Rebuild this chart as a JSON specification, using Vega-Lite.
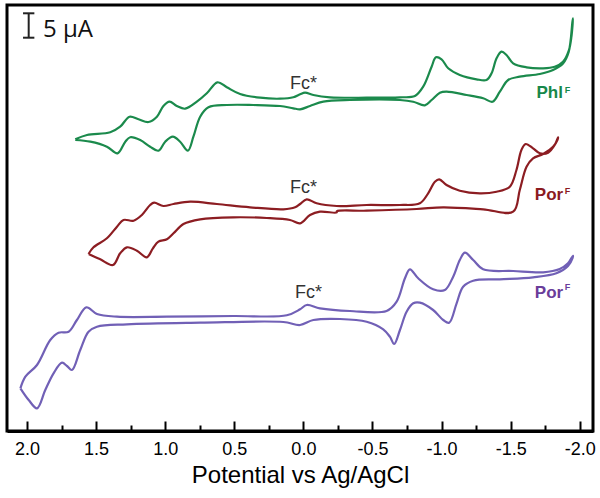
{
  "$schema": "https://vega.github.io/schema/vega-lite/v6.json",
  "width": 586,
  "height": 426,
  "autosize": {"type": "none"},
  "padding": {"left": 7, "top": 5, "right": 7, "bottom": 67},
  "background": "white",
  "config": {"view": {"stroke": "black", "strokeWidth": 3}, "font": "Liberation Sans"},
  "datasets": {
    "cv": [
      {"s": "green", "o": 0, "v": 1.651, "i": 58.34},
      {"s": "green", "o": 1, "v": 1.566, "i": 59.2},
      {"s": "green", "o": 2, "v": 1.398, "i": 59.74},
      {"s": "green", "o": 3, "v": 1.326, "i": 60.86},
      {"s": "green", "o": 4, "v": 1.258, "i": 62.86},
      {"s": "green", "o": 5, "v": 1.193, "i": 62.34},
      {"s": "green", "o": 6, "v": 1.121, "i": 61.8},
      {"s": "green", "o": 7, "v": 1.06, "i": 62.86},
      {"s": "green", "o": 8, "v": 1.013, "i": 65.0},
      {"s": "green", "o": 9, "v": 0.969, "i": 65.86},
      {"s": "green", "o": 10, "v": 0.916, "i": 65.0},
      {"s": "green", "o": 11, "v": 0.856, "i": 64.46},
      {"s": "green", "o": 12, "v": 0.771, "i": 65.86},
      {"s": "green", "o": 13, "v": 0.699, "i": 67.54},
      {"s": "green", "o": 14, "v": 0.622, "i": 69.74},
      {"s": "green", "o": 15, "v": 0.554, "i": 68.74},
      {"s": "green", "o": 16, "v": 0.458, "i": 67.4},
      {"s": "green", "o": 17, "v": 0.313, "i": 66.66},
      {"s": "green", "o": 18, "v": 0.169, "i": 66.46},
      {"s": "green", "o": 19, "v": 0.073, "i": 66.74},
      {"s": "green", "o": 20, "v": 0.024, "i": 67.34},
      {"s": "green", "o": 21, "v": -0.012, "i": 67.66},
      {"s": "green", "o": 22, "v": -0.072, "i": 67.2},
      {"s": "green", "o": 23, "v": -0.193, "i": 66.74},
      {"s": "green", "o": 24, "v": -0.458, "i": 66.66},
      {"s": "green", "o": 25, "v": -0.699, "i": 66.74},
      {"s": "green", "o": 26, "v": -0.807, "i": 67.0},
      {"s": "green", "o": 27, "v": -0.867, "i": 68.86},
      {"s": "green", "o": 28, "v": -0.928, "i": 72.86},
      {"s": "green", "o": 29, "v": -0.959, "i": 74.74},
      {"s": "green", "o": 30, "v": -1.0, "i": 74.34},
      {"s": "green", "o": 31, "v": -1.048, "i": 72.54},
      {"s": "green", "o": 32, "v": -1.132, "i": 71.2},
      {"s": "green", "o": 33, "v": -1.253, "i": 70.34},
      {"s": "green", "o": 34, "v": -1.325, "i": 70.2},
      {"s": "green", "o": 35, "v": -1.362, "i": 71.54},
      {"s": "green", "o": 36, "v": -1.398, "i": 74.54},
      {"s": "green", "o": 37, "v": -1.434, "i": 75.86},
      {"s": "green", "o": 38, "v": -1.47, "i": 75.2},
      {"s": "green", "o": 39, "v": -1.518, "i": 73.54},
      {"s": "green", "o": 40, "v": -1.615, "i": 72.74},
      {"s": "green", "o": 41, "v": -1.735, "i": 72.54},
      {"s": "green", "o": 42, "v": -1.819, "i": 72.86},
      {"s": "green", "o": 43, "v": -1.879, "i": 73.86},
      {"s": "green", "o": 44, "v": -1.922, "i": 76.2},
      {"s": "green", "o": 45, "v": -1.94, "i": 78.86},
      {"s": "green", "o": 46, "v": -1.951, "i": 82.54},
      {"s": "green", "o": 47, "v": -1.947, "i": 81.8},
      {"s": "green", "o": 48, "v": -1.92, "i": 75.8},
      {"s": "green", "o": 49, "v": -1.879, "i": 73.5},
      {"s": "green", "o": 50, "v": -1.807, "i": 72.2},
      {"s": "green", "o": 51, "v": -1.711, "i": 71.4},
      {"s": "green", "o": 52, "v": -1.566, "i": 70.86},
      {"s": "green", "o": 53, "v": -1.482, "i": 70.2},
      {"s": "green", "o": 54, "v": -1.422, "i": 67.86},
      {"s": "green", "o": 55, "v": -1.369, "i": 65.86},
      {"s": "green", "o": 56, "v": -1.301, "i": 66.54},
      {"s": "green", "o": 57, "v": -1.181, "i": 67.2},
      {"s": "green", "o": 58, "v": -1.036, "i": 67.86},
      {"s": "green", "o": 59, "v": -0.988, "i": 67.66},
      {"s": "green", "o": 60, "v": -0.928, "i": 66.2},
      {"s": "green", "o": 61, "v": -0.879, "i": 65.14},
      {"s": "green", "o": 62, "v": -0.795, "i": 65.86},
      {"s": "green", "o": 63, "v": -0.699, "i": 66.2},
      {"s": "green", "o": 64, "v": -0.337, "i": 66.2},
      {"s": "green", "o": 65, "v": -0.144, "i": 65.86},
      {"s": "green", "o": 66, "v": -0.048, "i": 65.0},
      {"s": "green", "o": 67, "v": 0.024, "i": 64.34},
      {"s": "green", "o": 68, "v": 0.073, "i": 64.54},
      {"s": "green", "o": 69, "v": 0.169, "i": 65.0},
      {"s": "green", "o": 70, "v": 0.362, "i": 65.2},
      {"s": "green", "o": 71, "v": 0.554, "i": 65.2},
      {"s": "green", "o": 72, "v": 0.687, "i": 64.74},
      {"s": "green", "o": 73, "v": 0.747, "i": 62.86},
      {"s": "green", "o": 74, "v": 0.796, "i": 58.86},
      {"s": "green", "o": 75, "v": 0.836, "i": 56.06},
      {"s": "green", "o": 76, "v": 0.892, "i": 57.86},
      {"s": "green", "o": 77, "v": 0.945, "i": 58.86},
      {"s": "green", "o": 78, "v": 1.0, "i": 57.86},
      {"s": "green", "o": 79, "v": 1.049, "i": 56.06},
      {"s": "green", "o": 80, "v": 1.109, "i": 56.86},
      {"s": "green", "o": 81, "v": 1.181, "i": 58.2},
      {"s": "green", "o": 82, "v": 1.253, "i": 58.74},
      {"s": "green", "o": 83, "v": 1.289, "i": 57.86},
      {"s": "green", "o": 84, "v": 1.345, "i": 55.54},
      {"s": "green", "o": 85, "v": 1.422, "i": 56.86},
      {"s": "green", "o": 86, "v": 1.542, "i": 57.86},
      {"s": "green", "o": 87, "v": 1.651, "i": 58.2},

      {"s": "red", "o": 0, "v": 1.555, "i": 35.4},
      {"s": "red", "o": 1, "v": 1.519, "i": 36.74},
      {"s": "red", "o": 2, "v": 1.422, "i": 38.54},
      {"s": "red", "o": 3, "v": 1.349, "i": 40.86},
      {"s": "red", "o": 4, "v": 1.302, "i": 42.2},
      {"s": "red", "o": 5, "v": 1.229, "i": 42.06},
      {"s": "red", "o": 6, "v": 1.169, "i": 43.2},
      {"s": "red", "o": 7, "v": 1.109, "i": 45.2},
      {"s": "red", "o": 8, "v": 1.08, "i": 45.66},
      {"s": "red", "o": 9, "v": 1.013, "i": 45.0},
      {"s": "red", "o": 10, "v": 0.94, "i": 45.4},
      {"s": "red", "o": 11, "v": 0.819, "i": 45.86},
      {"s": "red", "o": 12, "v": 0.626, "i": 45.4},
      {"s": "red", "o": 13, "v": 0.386, "i": 44.74},
      {"s": "red", "o": 14, "v": 0.145, "i": 44.34},
      {"s": "red", "o": 15, "v": 0.06, "i": 44.74},
      {"s": "red", "o": 16, "v": 0.024, "i": 45.4},
      {"s": "red", "o": 17, "v": -0.024, "i": 46.34},
      {"s": "red", "o": 18, "v": -0.096, "i": 45.54},
      {"s": "red", "o": 19, "v": -0.241, "i": 45.0},
      {"s": "red", "o": 20, "v": -0.458, "i": 45.2},
      {"s": "red", "o": 21, "v": -0.699, "i": 45.2},
      {"s": "red", "o": 22, "v": -0.843, "i": 45.54},
      {"s": "red", "o": 23, "v": -0.903, "i": 47.54},
      {"s": "red", "o": 24, "v": -0.952, "i": 49.86},
      {"s": "red", "o": 25, "v": -0.983, "i": 50.34},
      {"s": "red", "o": 26, "v": -1.036, "i": 49.2},
      {"s": "red", "o": 27, "v": -1.132, "i": 48.06},
      {"s": "red", "o": 28, "v": -1.277, "i": 47.54},
      {"s": "red", "o": 29, "v": -1.398, "i": 47.86},
      {"s": "red", "o": 30, "v": -1.494, "i": 48.86},
      {"s": "red", "o": 31, "v": -1.542, "i": 52.2},
      {"s": "red", "o": 32, "v": -1.578, "i": 56.2},
      {"s": "red", "o": 33, "v": -1.609, "i": 57.4},
      {"s": "red", "o": 34, "v": -1.662, "i": 56.54},
      {"s": "red", "o": 35, "v": -1.711, "i": 55.54},
      {"s": "red", "o": 36, "v": -1.771, "i": 55.66},
      {"s": "red", "o": 37, "v": -1.819, "i": 57.2},
      {"s": "red", "o": 38, "v": -1.843, "i": 58.74},
      {"s": "red", "o": 39, "v": -1.84, "i": 58.3},
      {"s": "red", "o": 40, "v": -1.807, "i": 56.86},
      {"s": "red", "o": 41, "v": -1.735, "i": 55.4},
      {"s": "red", "o": 42, "v": -1.662, "i": 54.54},
      {"s": "red", "o": 43, "v": -1.615, "i": 52.86},
      {"s": "red", "o": 44, "v": -1.566, "i": 48.2},
      {"s": "red", "o": 45, "v": -1.518, "i": 43.86},
      {"s": "red", "o": 46, "v": -1.301, "i": 44.34},
      {"s": "red", "o": 47, "v": -1.012, "i": 44.74},
      {"s": "red", "o": 48, "v": -0.819, "i": 44.4},
      {"s": "red", "o": 49, "v": -0.458, "i": 44.06},
      {"s": "red", "o": 50, "v": -0.242, "i": 43.95},
      {"s": "red", "o": 51, "v": -0.241, "i": 43.7},
      {"s": "red", "o": 52, "v": -0.12, "i": 43.86},
      {"s": "red", "o": 53, "v": -0.048, "i": 43.2},
      {"s": "red", "o": 54, "v": 0.024, "i": 41.54},
      {"s": "red", "o": 55, "v": 0.097, "i": 42.2},
      {"s": "red", "o": 56, "v": 0.265, "i": 42.6},
      {"s": "red", "o": 57, "v": 0.506, "i": 42.74},
      {"s": "red", "o": 58, "v": 0.747, "i": 42.34},
      {"s": "red", "o": 59, "v": 0.868, "i": 41.4},
      {"s": "red", "o": 60, "v": 0.94, "i": 39.54},
      {"s": "red", "o": 61, "v": 0.988, "i": 38.34},
      {"s": "red", "o": 62, "v": 1.049, "i": 37.86},
      {"s": "red", "o": 63, "v": 1.089, "i": 36.54},
      {"s": "red", "o": 64, "v": 1.133, "i": 34.74},
      {"s": "red", "o": 65, "v": 1.205, "i": 36.06},
      {"s": "red", "o": 66, "v": 1.277, "i": 36.74},
      {"s": "red", "o": 67, "v": 1.326, "i": 35.54},
      {"s": "red", "o": 68, "v": 1.378, "i": 33.2},
      {"s": "red", "o": 69, "v": 1.47, "i": 34.34},
      {"s": "red", "o": 70, "v": 1.555, "i": 35.4},

      {"s": "purple", "o": 0, "v": 2.048, "i": 8.54},
      {"s": "purple", "o": 1, "v": 2.012, "i": 10.86},
      {"s": "purple", "o": 2, "v": 1.928, "i": 13.2},
      {"s": "purple", "o": 3, "v": 1.832, "i": 18.2},
      {"s": "purple", "o": 4, "v": 1.772, "i": 19.66},
      {"s": "purple", "o": 5, "v": 1.699, "i": 19.86},
      {"s": "purple", "o": 6, "v": 1.639, "i": 22.2},
      {"s": "purple", "o": 7, "v": 1.571, "i": 24.74},
      {"s": "purple", "o": 8, "v": 1.494, "i": 23.4},
      {"s": "purple", "o": 9, "v": 1.349, "i": 22.86},
      {"s": "purple", "o": 10, "v": 0.988, "i": 22.86},
      {"s": "purple", "o": 11, "v": 0.506, "i": 23.0},
      {"s": "purple", "o": 12, "v": 0.12, "i": 23.14},
      {"s": "purple", "o": 13, "v": 0.024, "i": 24.34},
      {"s": "purple", "o": 14, "v": -0.024, "i": 25.2},
      {"s": "purple", "o": 15, "v": -0.12, "i": 24.54},
      {"s": "purple", "o": 16, "v": -0.337, "i": 24.0},
      {"s": "purple", "o": 17, "v": -0.602, "i": 24.0},
      {"s": "purple", "o": 18, "v": -0.675, "i": 25.86},
      {"s": "purple", "o": 19, "v": -0.735, "i": 30.54},
      {"s": "purple", "o": 20, "v": -0.771, "i": 32.34},
      {"s": "purple", "o": 21, "v": -0.831, "i": 30.54},
      {"s": "purple", "o": 22, "v": -0.939, "i": 28.34},
      {"s": "purple", "o": 23, "v": -1.024, "i": 28.2},
      {"s": "purple", "o": 24, "v": -1.084, "i": 30.86},
      {"s": "purple", "o": 25, "v": -1.132, "i": 34.2},
      {"s": "purple", "o": 26, "v": -1.169, "i": 35.66},
      {"s": "purple", "o": 27, "v": -1.229, "i": 34.2},
      {"s": "purple", "o": 28, "v": -1.301, "i": 32.34},
      {"s": "purple", "o": 29, "v": -1.518, "i": 32.0},
      {"s": "purple", "o": 30, "v": -1.735, "i": 31.74},
      {"s": "purple", "o": 31, "v": -1.855, "i": 32.4},
      {"s": "purple", "o": 32, "v": -1.915, "i": 33.54},
      {"s": "purple", "o": 33, "v": -1.951, "i": 35.06},
      {"s": "purple", "o": 34, "v": -1.948, "i": 34.6},
      {"s": "purple", "o": 35, "v": -1.915, "i": 33.0},
      {"s": "purple", "o": 36, "v": -1.831, "i": 31.54},
      {"s": "purple", "o": 37, "v": -1.662, "i": 30.74},
      {"s": "purple", "o": 38, "v": -1.422, "i": 30.34},
      {"s": "purple", "o": 39, "v": -1.229, "i": 30.06},
      {"s": "purple", "o": 40, "v": -1.156, "i": 28.86},
      {"s": "purple", "o": 41, "v": -1.109, "i": 25.54},
      {"s": "purple", "o": 42, "v": -1.055, "i": 21.66},
      {"s": "purple", "o": 43, "v": -1.012, "i": 22.2},
      {"s": "purple", "o": 44, "v": -0.939, "i": 24.2},
      {"s": "purple", "o": 45, "v": -0.843, "i": 25.66},
      {"s": "purple", "o": 46, "v": -0.795, "i": 25.54},
      {"s": "purple", "o": 47, "v": -0.747, "i": 23.86},
      {"s": "purple", "o": 48, "v": -0.699, "i": 20.2},
      {"s": "purple", "o": 49, "v": -0.657, "i": 17.4},
      {"s": "purple", "o": 50, "v": -0.626, "i": 18.86},
      {"s": "purple", "o": 51, "v": -0.578, "i": 20.34},
      {"s": "purple", "o": 52, "v": -0.458, "i": 21.86},
      {"s": "purple", "o": 53, "v": -0.265, "i": 22.4},
      {"s": "purple", "o": 54, "v": -0.072, "i": 22.2},
      {"s": "purple", "o": 55, "v": 0.024, "i": 21.2},
      {"s": "purple", "o": 56, "v": 0.145, "i": 21.8},
      {"s": "purple", "o": 57, "v": 0.747, "i": 21.66},
      {"s": "purple", "o": 58, "v": 1.277, "i": 21.34},
      {"s": "purple", "o": 59, "v": 1.494, "i": 20.86},
      {"s": "purple", "o": 60, "v": 1.555, "i": 19.86},
      {"s": "purple", "o": 61, "v": 1.615, "i": 16.2},
      {"s": "purple", "o": 62, "v": 1.675, "i": 12.2},
      {"s": "purple", "o": 63, "v": 1.711, "i": 13.0},
      {"s": "purple", "o": 64, "v": 1.747, "i": 13.66},
      {"s": "purple", "o": 65, "v": 1.808, "i": 11.54},
      {"s": "purple", "o": 66, "v": 1.868, "i": 8.2},
      {"s": "purple", "o": 67, "v": 1.928, "i": 4.54},
      {"s": "purple", "o": 68, "v": 1.988, "i": 6.2},
      {"s": "purple", "o": 69, "v": 2.048, "i": 8.54}
    ],
    "fc": [
      {"v": 0.0, "i": 68.4, "t": "Fc*"},
      {"v": 0.0, "i": 47.7, "t": "Fc*"},
      {"v": -0.037, "i": 26.6, "t": "Fc*"}
    ],
    "lab": [
      {"s": "green", "v": -1.687, "i": 66.6, "t": "Phl"},
      {"s": "red", "v": -1.675, "i": 46.2, "t": "Por"},
      {"s": "purple", "v": -1.675, "i": 26.6, "t": "Por"}
    ],
    "sup": [
      {"s": "green", "v": -1.891, "i": 67.6, "t": "F"},
      {"s": "red", "v": -1.891, "i": 47.5, "t": "F"},
      {"s": "purple", "v": -1.891, "i": 28.2, "t": "F"}
    ],
    "barv": [{"v": 1.988, "i": 78.66, "i2": 83.54}],
    "barh": [
      {"v": 2.029, "v2": 1.947, "i": 83.54},
      {"v": 2.029, "v2": 1.947, "i": 78.66}
    ],
    "bart": [{"v": 1.884, "i": 78.86, "t": "5 μA"}],
    "minor": [{"v": 0}]
  },
  "layer": [
    {
      "layer": [
        {
          "data": {"name": "cv"},
          "mark": {"type": "line", "interpolate": "catmull-rom", "strokeWidth": 2.2},
          "encoding": {
            "x": {
              "field": "v", "type": "quantitative",
              "scale": {"domain": [-2.096, 2.145], "reverse": true, "nice": false, "zero": false},
              "axis": {
                "orient": "bottom",
                "values": [2, 1.5, 1, 0.5, 0, -0.5, -1, -1.5, -2],
                "labelExpr": "(datum.value < 0 ? '-' : '') + format(abs(datum.value), '.1f')",
                "labelFont": "Liberation Sans", "labelFontSize": 18, "labelColor": "black",
                "labelPadding": 19, "labelFlush": false, "labelOverlap": false,
                "tickSize": -10, "tickWidth": 2, "tickColor": "black",
                "domainColor": "black", "domainWidth": 3, "grid": false,
                "title": "Potential vs Ag/AgCl", "titleFont": "Liberation Sans",
                "titleFontSize": 24, "titleFontWeight": "normal", "titleColor": "black",
                "titlePadding": 5
              }
            },
            "y": {
              "field": "i", "type": "quantitative",
              "scale": {"domain": [0, 85.2], "nice": false, "zero": false},
              "axis": null
            },
            "color": {
              "field": "s", "type": "nominal",
              "scale": {"domain": ["green", "red", "purple"], "range": ["#1b8a4c", "#8c1d22", "#7160b6"]},
              "legend": null
            },
            "order": {"field": "o", "type": "quantitative"}
          }
        },
        {
          "data": {"name": "fc"},
          "mark": {"type": "text", "fontSize": 18, "color": "#333333", "align": "center", "baseline": "alphabetic", "font": "Liberation Sans"},
          "encoding": {
            "x": {"field": "v", "type": "quantitative"},
            "y": {"field": "i", "type": "quantitative"},
            "text": {"field": "t"}
          }
        },
        {
          "data": {"name": "lab"},
          "mark": {"type": "text", "fontSize": 17, "fontWeight": "bold", "align": "left", "baseline": "alphabetic", "font": "Liberation Sans"},
          "encoding": {
            "x": {"field": "v", "type": "quantitative"},
            "y": {"field": "i", "type": "quantitative"},
            "text": {"field": "t"},
            "color": {
              "field": "s", "type": "nominal",
              "scale": {"domain": ["green", "red", "purple"], "range": ["#17884a", "#8b1a1f", "#6a3d9a"]},
              "legend": null
            }
          }
        },
        {
          "data": {"name": "sup"},
          "mark": {"type": "text", "fontSize": 9, "fontWeight": "bold", "align": "left", "baseline": "alphabetic", "font": "Liberation Sans"},
          "encoding": {
            "x": {"field": "v", "type": "quantitative"},
            "y": {"field": "i", "type": "quantitative"},
            "text": {"field": "t"},
            "color": {
              "field": "s", "type": "nominal",
              "scale": {"domain": ["green", "red", "purple"], "range": ["#17884a", "#8b1a1f", "#6a3d9a"]},
              "legend": null
            }
          }
        },
        {
          "data": {"name": "barv"},
          "mark": {"type": "rule", "color": "#222222", "strokeWidth": 2},
          "encoding": {
            "x": {"field": "v", "type": "quantitative"},
            "y": {"field": "i", "type": "quantitative"},
            "y2": {"field": "i2"}
          }
        },
        {
          "data": {"name": "barh"},
          "mark": {"type": "rule", "color": "#222222", "strokeWidth": 2},
          "encoding": {
            "x": {"field": "v", "type": "quantitative"},
            "x2": {"field": "v2"},
            "y": {"field": "i", "type": "quantitative"}
          }
        },
        {
          "data": {"name": "bart"},
          "mark": {"type": "text", "fontSize": 24, "color": "#111111", "align": "left", "baseline": "alphabetic", "font": "Open Sans"},
          "encoding": {
            "x": {"field": "v", "type": "quantitative"},
            "y": {"field": "i", "type": "quantitative"},
            "text": {"field": "t"}
          }
        }
      ],
      "resolve": {"scale": {"color": "independent"}}
    },
    {
      "data": {"name": "minor"},
      "mark": {"type": "point", "opacity": 0},
      "encoding": {
        "x": {
          "field": "v", "type": "quantitative",
          "axis": {
            "orient": "bottom",
            "values": [1.75, 1.25, 0.75, 0.25, -0.25, -0.75, -1.25, -1.75],
            "labels": false, "domain": false, "grid": false, "title": null,
            "tickSize": -6, "tickWidth": 2, "tickColor": "black"
          }
        }
      }
    }
  ],
  "resolve": {"axis": {"x": "independent"}}
}
